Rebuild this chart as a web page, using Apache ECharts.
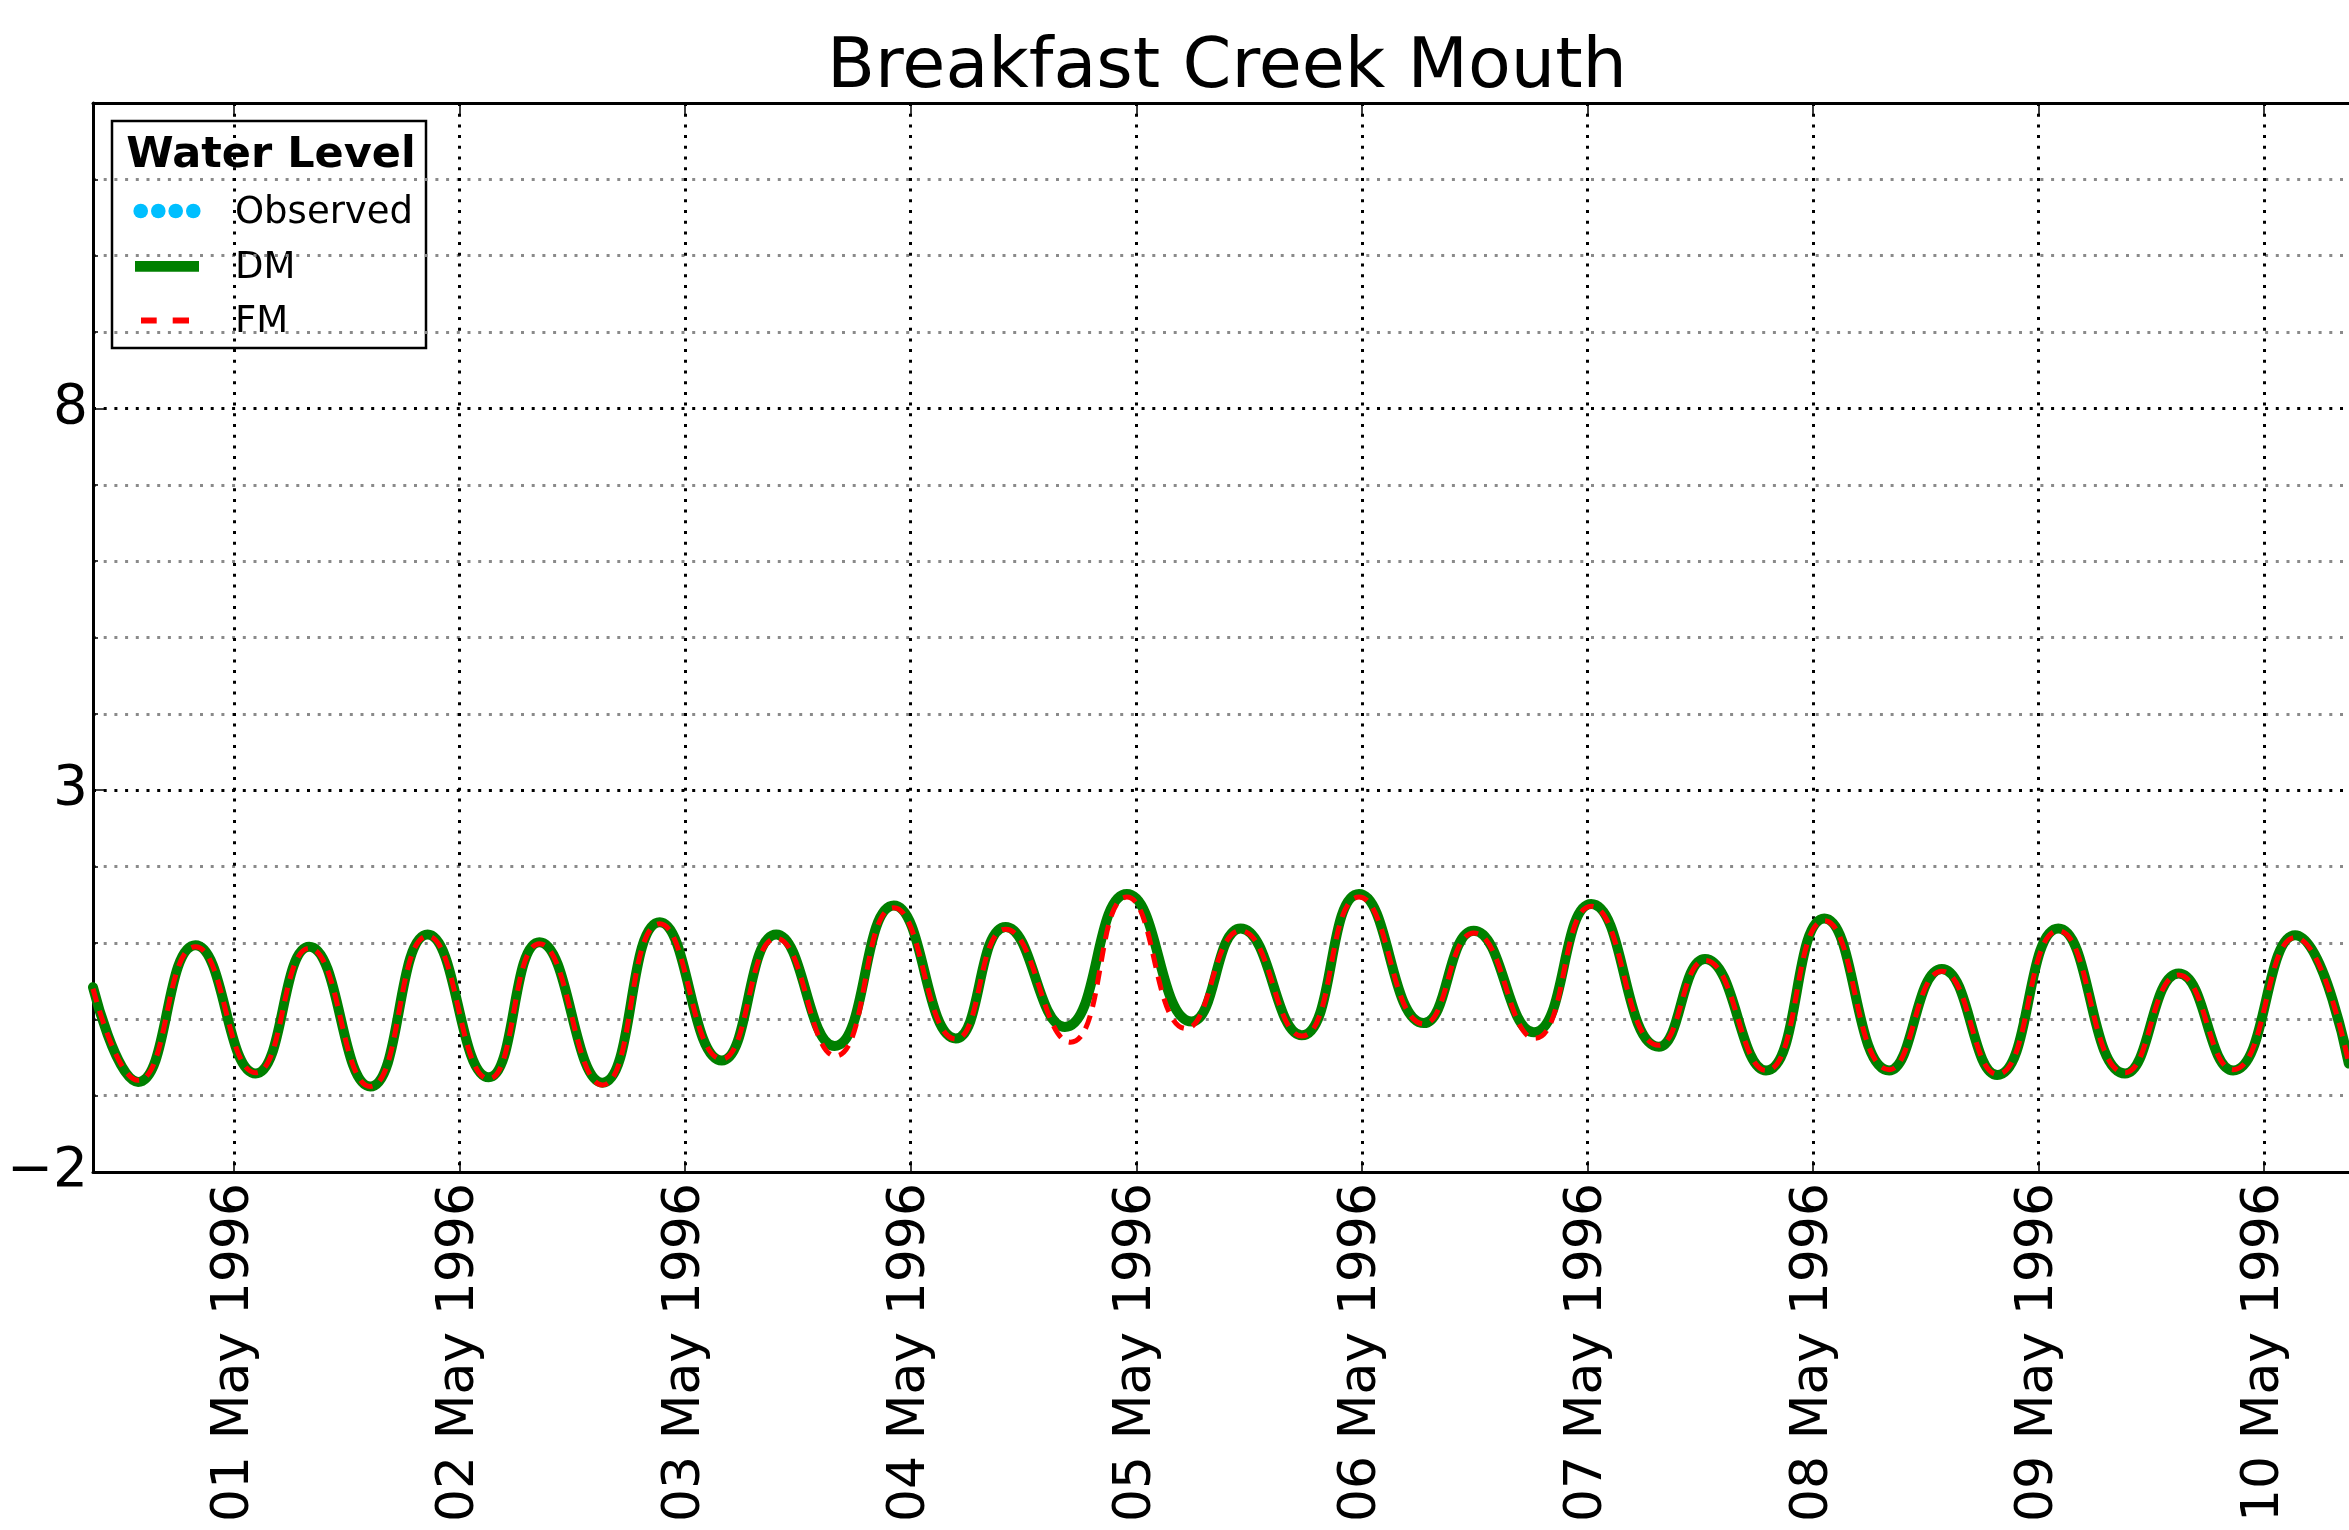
<!DOCTYPE html>
<html>
<head>
<meta charset="utf-8">
<title>Breakfast Creek Mouth</title>
<script src="https://cdn.jsdelivr.net/npm/echarts@6/dist/echarts.min.js"></script>
<style>
    html, body { margin: 0; padding: 0; background: #fff; }
    #chart { width: 2349px; height: 1530px; }
</style>
</head>
<body>
<div id="chart"></div>
<script>
// hours after 1996-05-01 00:00 (UTC) and water levels
const dmHours = [-15, -10.2, -4.1, 2.3, 8.0, 14.5, 20.6, 27.1, 32.5, 39.2, 45.3, 51.9, 57.7, 63.9, 70.2, 76.8, 82.1, 88.4, 95.0, 101.9,
    107.1, 113.6, 119.7, 126.6, 131.9, 138.3, 144.4, 151.6, 156.5, 163.0, 169.2, 176.1, 181.7, 187.6, 194.1, 201.2, 206.9, 212.7, 219.3, 225.0];
const dmLevel = [0.42, -0.82, 0.97, -0.71, 0.95, -0.88, 1.11, -0.76, 1.01, -0.83, 1.27, -0.54, 1.11, -0.35, 1.49, -0.25, 1.21, -0.10, 1.64, -0.03,
    1.19, -0.21, 1.64, -0.05, 1.16, -0.17, 1.51, -0.36, 0.79, -0.67, 1.32, -0.67, 0.66, -0.73, 1.19, -0.71, 0.60, -0.67, 1.10, -0.58];

const fmHours = [-15, -10.2, -4.1, 2.3, 8.0, 14.5, 20.6, 27.1, 32.5, 39.2, 45.3, 51.9, 57.7, 64.0, 70.2, 76.8, 82.1, 89.0, 95.0, 101.3,
    107.1, 113.6, 119.7, 126.6, 131.9, 138.4, 144.4, 151.6, 156.5, 163.0, 169.2, 176.1, 181.7, 187.6, 194.1, 201.2, 206.9, 212.7, 219.3, 225.0];
const fmLevel = [0.40, -0.80, 0.95, -0.70, 0.93, -0.88, 1.09, -0.78, 0.99, -0.86, 1.25, -0.52, 1.06, -0.48, 1.46, -0.26, 1.18, -0.30, 1.60, -0.12,
    1.16, -0.22, 1.60, -0.06, 1.13, -0.25, 1.48, -0.34, 0.77, -0.67, 1.29, -0.66, 0.63, -0.72, 1.16, -0.70, 0.58, -0.66, 1.07, -0.58];

// no observed values fall inside this window
const observedHours = [];
const observedLevel = [];

const yTicks = [-2, 3, 8];
const monthNames = ['Jan', 'Feb', 'Mar', 'Apr', 'May', 'Jun', 'Jul', 'Aug', 'Sep', 'Oct', 'Nov', 'Dec'];

const HOUR = 3600 * 1000;
const t0 = Date.UTC(1996, 4, 1, 0, 0);

function toSeries(hours, levels) {
    return hours.map((h, i) => [t0 + h * HOUR, levels[i]]);
}

function pad(n) { return n < 10 ? '0' + n : '' + n; }

const font = 'DejaVu Sans';
const xMin = t0 - 15 * HOUR;
const xMax = t0 + 226.3 * HOUR;

const chart = echarts.init(document.getElementById('chart'));

const option = {
    animation: false,
    useUTC: true,
    backgroundColor: '#fff',
    grid: { left: 93, top: 103, right: -12, bottom: 358, outerBoundsMode: 'none', containLabel: false },
    xAxis: [
        {
            type: 'time',
            position: 'bottom',
            min: xMin,
            max: xMax,
            minInterval: 24 * HOUR,
            maxInterval: 24 * HOUR,
            axisLine: { show: true, onZero: false, lineStyle: { color: '#000', width: 3 } },
            axisTick: { show: true, inside: true, length: 11, lineStyle: { color: '#000', width: 1.5 } },
            axisLabel: {
                rotate: 90,
                margin: 11,
                fontFamily: font,
                fontSize: 52,
                color: '#000',
                formatter: function (val) {
                    const d = new Date(val);
                    return pad(d.getUTCDate()) + ' ' + monthNames[d.getUTCMonth()] + ' ' + d.getUTCFullYear();
                }
            },
            splitLine: { show: true, lineStyle: { color: '#000', width: 3, type: [3, 7.7] } }
        },
        {
            type: 'time',
            position: 'top',
            min: xMin,
            max: xMax,
            minInterval: 24 * HOUR,
            maxInterval: 24 * HOUR,
            axisLine: { show: true, onZero: false, lineStyle: { color: '#000', width: 3 } },
            axisTick: { show: true, inside: true, length: 11, lineStyle: { color: '#000', width: 1.5 } },
            axisLabel: { show: false },
            splitLine: { show: false }
        }
    ],
    yAxis: {
        type: 'value',
        min: -2,
        max: 12,
        interval: 5,
        axisLine: { show: true, onZero: false, lineStyle: { color: '#000', width: 3 } },
        axisTick: { show: true, inside: true, length: 11, lineStyle: { color: '#000', width: 1.5 } },
        minorTick: { show: true, splitNumber: 5, length: 5, lineStyle: { color: '#000', width: 1.5 } },
        axisLabel: {
            showMaxLabel: false,
            margin: 5,
            fontFamily: font,
            fontSize: 55,
            color: '#000',
            formatter: function (v) {
                if (yTicks.indexOf(v) < 0) return '';
                return v < 0 ? '\u2212' + Math.abs(v) : '' + v;
            }
        },
        splitLine: { show: true, lineStyle: { color: '#000', width: 3, type: [3, 7.7] } },
        minorSplitLine: { show: true, lineStyle: { color: '#8a8a8a', width: 3, type: [3, 7.7] } }
    },
    series: [
        {
            name: 'Observed',
            type: 'scatter',
            symbolSize: 14,
            itemStyle: { color: '#00BFFF' },
            data: toSeries(observedHours, observedLevel)
        },
        {
            name: 'DM',
            type: 'line',
            smooth: 0.5,
            showSymbol: false,
            lineStyle: { color: '#008000', width: 10, cap: 'round', join: 'round' },
            data: toSeries(dmHours, dmLevel),
            z: 3
        },
        {
            name: 'FM',
            type: 'line',
            smooth: 0.5,
            showSymbol: false,
            lineStyle: { color: '#ff0000', width: 5, type: [14, 9] },
            data: toSeries(fmHours, fmLevel),
            z: 4
        }
    ],
    graphic: [
        {
            type: 'text',
            x: 1227,
            y: 69,
            style: {
                text: 'Breakfast Creek Mouth',
                font: '70px "' + font + '"',
                fill: '#000',
                textAlign: 'center',
                textVerticalAlign: 'middle'
            }
        },
        // legend box
        {
            type: 'group',
            z: 100,
            children: [
                {
                    type: 'rect',
                    shape: { x: 112, y: 121, width: 314, height: 227 },
                    style: { fill: '#fff', stroke: '#000', lineWidth: 2.5 }
                },
                {
                    type: 'text',
                    x: 271, y: 156,
                    style: { text: 'Water Level', font: 'bold 43px "' + font + '"', fill: '#000', textAlign: 'center', textVerticalAlign: 'middle' }
                },
                { type: 'circle', shape: { cx: 140.7, cy: 211, r: 7.3 }, style: { fill: '#00BFFF' } },
                { type: 'circle', shape: { cx: 158.3, cy: 211, r: 7.3 }, style: { fill: '#00BFFF' } },
                { type: 'circle', shape: { cx: 175.7, cy: 211, r: 7.3 }, style: { fill: '#00BFFF' } },
                { type: 'circle', shape: { cx: 193.3, cy: 211, r: 7.3 }, style: { fill: '#00BFFF' } },
                {
                    type: 'text', x: 235, y: 213.5,
                    style: { text: 'Observed', font: '37px "' + font + '"', fill: '#000', textAlign: 'left', textVerticalAlign: 'middle' }
                },
                { type: 'rect', shape: { x: 135, y: 261, width: 64, height: 10.7 }, style: { fill: '#008000' } },
                {
                    type: 'text', x: 235, y: 268,
                    style: { text: 'DM', font: '37px "' + font + '"', fill: '#000', textAlign: 'left', textVerticalAlign: 'middle' }
                },
                { type: 'rect', shape: { x: 141, y: 317.5, width: 15.7, height: 6 }, style: { fill: '#ff0000' } },
                { type: 'rect', shape: { x: 172.7, y: 317.5, width: 16.3, height: 6 }, style: { fill: '#ff0000' } },
                {
                    type: 'text', x: 235, y: 322.5,
                    style: { text: 'FM', font: '37px "' + font + '"', fill: '#000', textAlign: 'left', textVerticalAlign: 'middle' }
                }
            ]
        }
    ]
};

chart.setOption(option);
</script>
</body>
</html>
